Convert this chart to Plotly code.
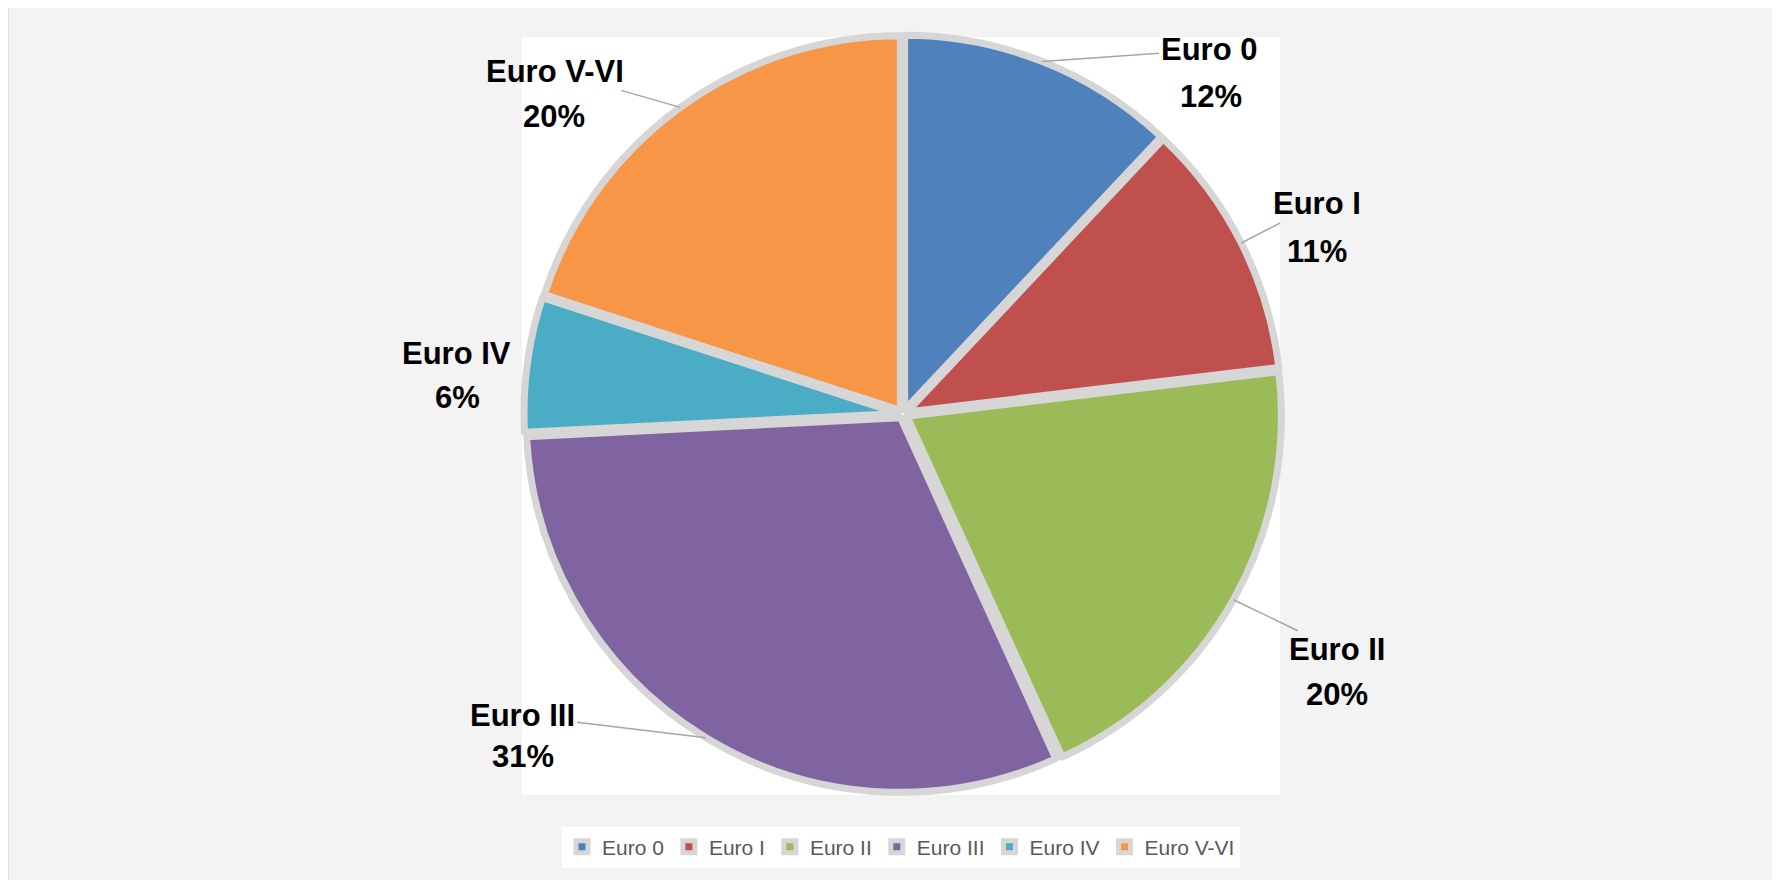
import math
import plotly.graph_objects as go

# ---- data ----
categories = ["Euro 0", "Euro I", "Euro II", "Euro III", "Euro IV", "Euro V-VI"]
shares = [12.0, 11.1, 20.1, 31.0, 5.8, 20.0]
colors = ["#4F81BD", "#C0504D", "#9BBB59", "#8064A2", "#4BACC6", "#F79646"]

# ---- label layout: pixel offsets of the name / percentage centres from the slice edge ----
name_offsets = [(166, -12), (76, -39), (104, 50), (-183, -22), (-71, -11), (-125, -36)]
pct_offsets = [(168, 35), (76, 9), (104, 95), (-183, 19), (-70, 33), (-126, 9)]
show_leader = [True, True, True, True, False, True]

W, H = 1780, 880
OFF = 8  # page body margin
cx, cy, R = 903 - OFF, 414 - OFF, 379
PULL = 0.012


def px_x(x):
    return (x - OFF) / W


def px_y(y):
    return 1 - (y - OFF) / H


dom_x = [(cx - R) / W, (cx + R) / W]
dom_y = [1 - (cy + R) / H, 1 - (cy - R) / H]

fig = go.Figure()
fig.add_trace(go.Pie(
    labels=categories,
    values=shares,
    sort=False,
    direction="clockwise",
    rotation=0,
    marker=dict(colors=colors, line=dict(color="#d6d6d6", width=7)),
    pull=[PULL] * len(shares),
    textinfo="none",
    hoverinfo="label+percent",
    domain=dict(x=dom_x, y=dom_y),
    showlegend=True,
))

LABEL_FONT = dict(family="Liberation Sans, Arial, sans-serif", size=31, color="#000000")
total = sum(shares)
annotations = []
cum = 0.0
for name, v, (nx, ny), (qx, qy), lead in zip(categories, shares, name_offsets, pct_offsets, show_leader):
    mid = (cum + v / 2) / total
    cum += v
    th = 2 * math.pi * mid
    ax_ = cx + R * math.sin(th)
    ay_ = cy - R * math.cos(th)
    pct = round(100 * v / total)
    common = dict(x=ax_ / W, y=1 - ay_ / H, xref="paper", yref="paper",
                  showarrow=True, arrowhead=0, standoff=0, startstandoff=0,
                  arrowwidth=1.5, axref="pixel", ayref="pixel",
                  font=LABEL_FONT, align="center")
    annotations.append(dict(common, text=f"<b>{name}</b>", ax=nx, ay=ny,
                            arrowcolor="#a6a6a6" if lead else "rgba(0,0,0,0)"))
    annotations.append(dict(common, text=f"<b>{pct}%</b>", ax=qx, ay=qy,
                            arrowcolor="rgba(0,0,0,0)"))

shapes = [
    # chart area (grey)
    dict(type="rect", xref="paper", yref="paper", layer="below",
         x0=px_x(8), x1=px_x(W + 30), y0=px_y(H + 30), y1=px_y(6),
         fillcolor="#f3f3f3", line=dict(width=0)),
    # chart area border (top / left)
    dict(type="line", xref="paper", yref="paper", layer="below",
         x0=px_x(8), x1=px_x(W + 30), y0=px_y(6), y1=px_y(6),
         line=dict(color="#d9d9d9", width=1.5)),
    dict(type="line", xref="paper", yref="paper", layer="below",
         x0=px_x(8), x1=px_x(8), y0=px_y(6), y1=px_y(H + 30),
         line=dict(color="#d9d9d9", width=1.5)),
    # plot area (white)
    dict(type="rect", xref="paper", yref="paper", layer="below",
         x0=px_x(522), x1=px_x(1280), y0=px_y(795), y1=px_y(37),
         fillcolor="#ffffff", line=dict(width=0)),
]

fig.update_layout(
    width=W, height=H,
    margin=dict(l=0, r=0, t=0, b=0),
    paper_bgcolor="#ffffff",
    plot_bgcolor="#ffffff",
    annotations=annotations,
    shapes=shapes,
    legend=dict(
        orientation="h", x=px_x(901), xanchor="center", y=px_y(847), yanchor="middle",
        bgcolor="#ffffff",
        font=dict(family="Liberation Sans, Arial, sans-serif", size=21, color="#595959"),
        traceorder="normal",
    ),
)

fig.write_html("out.html")
